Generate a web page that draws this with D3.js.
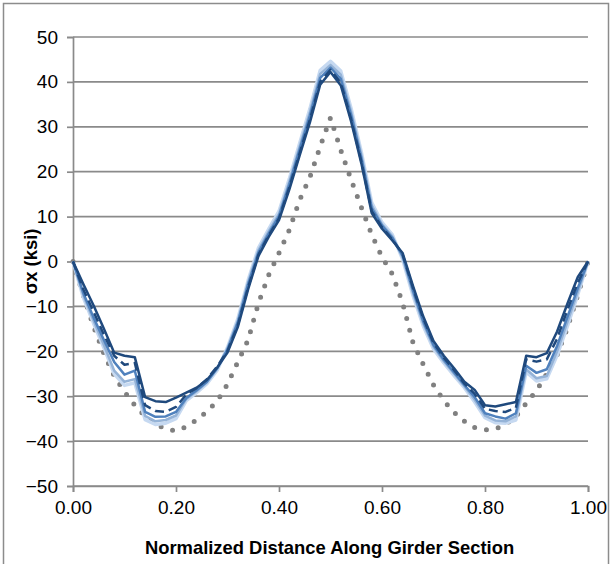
<!DOCTYPE html>
<html>
<head>
<meta charset="utf-8">
<script src="https://cdn.jsdelivr.net/npm/d3@7"></script>
<style>
  html, body { margin: 0; padding: 0; background: #fff; }
  svg { display: block; }
  text { font-family: "Liberation Sans", Arial, sans-serif; fill: #000; }
</style>
</head>
<body>
<svg id="chart" width="613" height="564"></svg>
<script>
// Normalized stations along the girder section
const positions = [0.00, 0.02, 0.04, 0.06, 0.08, 0.10, 0.12, 0.14, 0.16, 0.18,
  0.20, 0.22, 0.24, 0.26, 0.28, 0.30, 0.32, 0.34, 0.36, 0.38,
  0.40, 0.42, 0.44, 0.46, 0.48, 0.50, 0.52, 0.54, 0.56, 0.58,
  0.60, 0.62, 0.64, 0.66, 0.68, 0.70, 0.72, 0.74, 0.76, 0.78,
  0.80, 0.82, 0.84, 0.86, 0.88, 0.90, 0.92, 0.94, 0.96, 0.98, 1.00];

// Longitudinal stress sx (ksi) for each analysis case
const stressCase1 = [0, -5.0, -9.8, -15.0, -20.3, -21.0, -21.3, -30.2, -31.1, -31.3,
  -30.3, -29.2, -28.1, -26.4, -23.6, -20.3, -14.6, -6.2, 1.2, 5.5,
  9.2, 16.0, 23.6, 31.0, 39.4, 42.2, 39.2, 31.2, 21.8, 10.8,
  7.3, 4.7, 1.9, -5.4, -12.2, -17.7, -21.0, -23.8, -26.8, -28.6,
  -32.0, -32.3, -31.8, -31.3, -21.0, -21.3, -20.4, -15.6, -9.4, -3.5, 0];

const stressCase2 = [0, -6.2, -11.2, -16.3, -21.0, -23.0, -22.6, -32.0, -33.3, -33.5,
  -32.4, -29.6, -28.2, -26.2, -23.4, -19.9, -14.2, -5.8, 1.5, 5.8,
  9.6, 16.5, 24.1, 31.6, 40.0, 42.7, 39.8, 31.7, 22.2, 11.2,
  7.6, 4.9, 1.6, -5.8, -12.6, -18.1, -21.4, -24.2, -27.2, -29.5,
  -32.8, -33.3, -33.5, -32.6, -21.8, -22.3, -21.8, -17.2, -10.8, -4.8, 0];

const stressCase3 = [0, -7.0, -12.5, -17.5, -22.4, -25.2, -24.3, -33.5, -34.6, -34.5,
  -33.5, -30.4, -28.7, -26.8, -23.8, -19.6, -13.6, -5.1, 2.0, 6.2,
  10.1, 17.2, 24.9, 32.5, 40.9, 43.2, 40.7, 32.6, 23.0, 11.9,
  8.0, 5.3, 1.3, -6.4, -13.3, -18.6, -21.9, -24.7, -27.5, -30.2,
  -33.8, -34.5, -35.0, -33.8, -23.2, -24.8, -24.0, -18.8, -12.4, -6.0, 0];

const stressCase4 = [0, -7.5, -13.2, -18.6, -24.3, -26.8, -26.2, -34.4, -35.6, -35.3,
  -34.3, -30.6, -28.9, -26.9, -23.9, -19.3, -13.2, -4.6, 2.5, 6.7,
  10.6, 17.8, 25.6, 33.3, 41.8, 43.8, 41.6, 33.4, 23.7, 12.5,
  8.3, 5.6, 0.9, -7.0, -13.8, -19.0, -22.2, -25.0, -27.8, -30.8,
  -34.3, -35.4, -35.6, -34.5, -24.0, -26.0, -25.5, -20.0, -13.5, -6.8, 0];

const stressCase5 = [0, -8.0, -13.8, -19.2, -25.0, -27.6, -27.0, -35.2, -36.3, -36.0,
  -35.0, -31.0, -29.2, -27.2, -24.2, -19.1, -12.8, -4.2, 3.0, 7.2,
  11.2, 18.4, 26.3, 34.0, 42.6, 44.6, 42.4, 34.1, 24.3, 13.1,
  8.7, 6.0, 0.5, -7.5, -14.3, -19.5, -22.6, -25.4, -28.1, -31.3,
  -34.8, -35.9, -36.0, -35.3, -24.6, -26.6, -26.1, -20.9, -14.4, -7.4, 0];

// Beam-theory reference stress
const stressBeam = [0, -7.5, -14.5, -20.5, -25.5, -29.0, -32.0, -34.5, -36.2, -37.3,
  -37.7, -36.8, -35.3, -33.4, -31.1, -27.3, -22.4, -17.5, -9.3, -3.0,
  1.9, 7.0, 13.7, 18.8, 25.6, 32.0, 24.8, 18.2, 12.0, 6.0,
  1.0, -2.8, -9.2, -18.0, -22.9, -27.5, -31.0, -33.6, -35.6, -37.0,
  -37.5, -37.3, -36.3, -34.5, -31.6, -28.7, -25.0, -20.8, -14.8, -7.5, 0];

const xTicks = [0, 0.2, 0.4, 0.6, 0.8, 1.0];
const yTicks = [-50, -40, -30, -20, -10, 0, 10, 20, 30, 40, 50];
const xTitle = "Normalized Distance Along Girder Section";
const yTitle = "σx (ksi)";

const svg = d3.select("#chart");
const W = 613, H = 564;
const margin = { left: 73, right: 25, top: 37, bottom: 78 };

// chart frame
svg.append("rect")
  .attr("x", 3.5).attr("y", 3.5)
  .attr("width", 605).attr("height", 570)
  .attr("fill", "#fff").attr("stroke", "#8c8c8c").attr("stroke-width", 1.5);

const x = d3.scaleLinear().domain([0, 1]).range([margin.left, W - margin.right]);
const y = d3.scaleLinear().domain([-50, 50]).range([H - margin.bottom, margin.top]);

const gridColor = "#8a8a8a";

// horizontal gridlines
svg.append("g")
  .selectAll("line")
  .data(yTicks)
  .join("line")
  .attr("x1", x(0)).attr("x2", x(1))
  .attr("y1", d => y(d)).attr("y2", d => y(d))
  .attr("stroke", gridColor).attr("stroke-width", 1.7);

// y axis
const yAxis = svg.append("g")
  .attr("transform", `translate(${x(0)},0)`)
  .call(d3.axisLeft(y).tickValues(yTicks).tickFormat(d3.format("d")).tickSize(6).tickPadding(9));
yAxis.select(".domain").attr("stroke", gridColor).attr("stroke-width", 1.7);
yAxis.selectAll(".tick line").attr("stroke", gridColor).attr("stroke-width", 1.7);
yAxis.selectAll(".tick text")
  .attr("font-family", "Liberation Sans, Arial, sans-serif")
  .attr("font-size", 19).attr("fill", "#000");

// x axis
const xAxis = svg.append("g")
  .attr("transform", `translate(0,${y(-50)})`)
  .call(d3.axisBottom(x).tickValues(xTicks).tickFormat(d3.format(".2f")).tickSize(6).tickPadding(9));
xAxis.select(".domain").attr("stroke", gridColor).attr("stroke-width", 1.7);
xAxis.selectAll(".tick line").attr("stroke", gridColor).attr("stroke-width", 1.7);
xAxis.selectAll(".tick text")
  .attr("font-family", "Liberation Sans, Arial, sans-serif")
  .attr("font-size", 19).attr("fill", "#000");

// axis titles
svg.append("text")
  .attr("x", (x(0) + x(1)) / 2 - 1).attr("y", 554)
  .attr("text-anchor", "middle")
  .attr("font-size", 18.4).attr("font-weight", "bold")
  .text(xTitle);

svg.append("text")
  .attr("transform", `translate(37,${y(0)}) rotate(-90)`)
  .attr("text-anchor", "middle")
  .attr("font-size", 18.4).attr("font-weight", "bold")
  .text(yTitle);

const line = d3.line()
  .x((d, i) => x(positions[i]))
  .y(d => y(d));

const curves = [
  { values: stressBeam, color: "#808080", width: 5, dash: "0,12", cap: "round" },
  { values: stressCase5, color: "#C6D9F1", width: 3.5 },
  { values: stressCase4, color: "#95B3D7", width: 2.5 },
  { values: stressCase3, color: "#4F81BD", width: 2.5 },
  { values: stressCase2, color: "#1F497D", width: 2.5, dash: "9,5" },
  { values: stressCase1, color: "#1F497D", width: 2.5 }
];

svg.append("g")
  .selectAll("path")
  .data(curves)
  .join("path")
  .attr("d", d => line(d.values))
  .attr("fill", "none")
  .attr("stroke", d => d.color)
  .attr("stroke-width", d => d.width)
  .attr("stroke-dasharray", d => d.dash || null)
  .attr("stroke-linecap", d => d.cap || "butt")
  .attr("stroke-linejoin", "round");
</script>
</body>
</html>
